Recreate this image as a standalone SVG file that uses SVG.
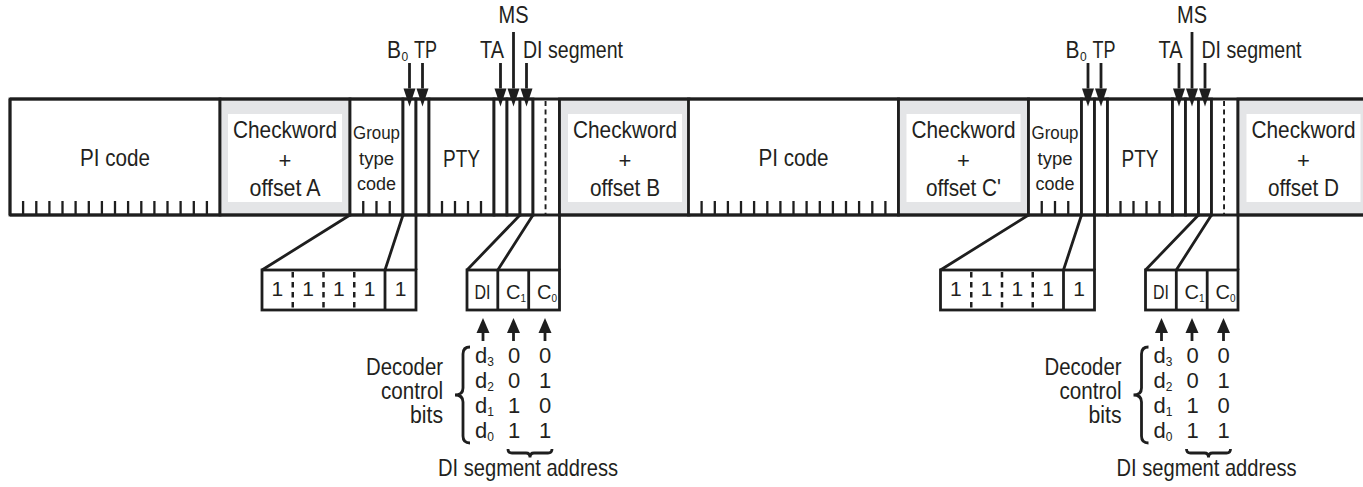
<svg xmlns="http://www.w3.org/2000/svg" width="1363" height="487" viewBox="0 0 1363 487">
<defs>
<style>
.cell{fill:#fff;stroke:#1e1e1e;stroke-width:2.8}
.cw{fill:#e4e5e7;stroke:#1e1e1e;stroke-width:2.8}
.in{fill:#fff}
.fill{fill:#fff}
.ln{stroke:#1e1e1e;stroke-width:2.8;fill:none}
.tk{stroke:#1e1e1e;stroke-width:2.3;fill:none}
.ds{stroke:#1e1e1e;stroke-width:2.8;stroke-dasharray:5 3.6;fill:none}
.dsb{stroke:#1e1e1e;stroke-width:2.5;stroke-dasharray:5.5 4.5;fill:none}
.t{font-family:"Liberation Sans",Arial,sans-serif;font-size:24px;fill:#231f20}
.s18{font-size:18px}
.s20{font-size:20px}
.s21{font-size:21px}
.s22{font-size:22px}
.s23{font-size:23px}
.c{text-anchor:middle}
.e{text-anchor:end}
.sub{font-size:12px}
.pl{font-size:22px}
</style>
<marker id="ad" markerUnits="userSpaceOnUse" markerWidth="18" markerHeight="12" refX="0" refY="6" orient="auto" overflow="visible"><path d="M0,0 L18,6 L0,12 z" fill="#1e1e1e"/></marker>
<marker id="au" markerUnits="userSpaceOnUse" markerWidth="15" markerHeight="13" refX="0" refY="6.5" orient="auto" overflow="visible"><path d="M0,0 L15,6.5 L0,13 z" fill="#1e1e1e"/></marker>
</defs>
<rect width="1363" height="487" fill="#fff"/>

<!-- ================= LEFT HALF ================= -->
<g id="left-half">
<g id="pi-code-1"><rect class="cell" x="10" y="99" width="210" height="116"/><path class="tk" d="M23.1 201V215M36.3 201V215M49.4 201V215M62.5 201V215M75.6 201V215M88.8 201V215M101.9 201V215M115 201V215M128.1 201V215M141.3 201V215M154.4 201V215M167.5 201V215M180.6 201V215M193.8 201V215M206.9 201V215"/><text class="t c" x="115" y="166" textLength="70" lengthAdjust="spacingAndGlyphs">PI code</text></g>
<g id="checkword-a"><rect class="cw" x="220" y="99" width="130" height="116"/><rect class="in" x="228" y="114" width="114" height="88"/><text class="t c" x="285" y="138" textLength="104" lengthAdjust="spacingAndGlyphs">Checkword</text><text class="t pl c" x="285" y="168">+</text><text class="t c" x="285" y="196" textLength="71" lengthAdjust="spacingAndGlyphs">offset A</text></g>
<g id="group-type-code-1"><rect class="cell" x="350" y="99" width="53" height="116"/><path class="tk" d="M363.25 201V215M376.5 201V215M389.75 201V215"/><text class="t c s18" x="376.5" y="139" textLength="47" lengthAdjust="spacingAndGlyphs">Group</text><text class="t c s18" x="376.5" y="165" textLength="35" lengthAdjust="spacingAndGlyphs">type</text><text class="t c s18" x="376.5" y="190" textLength="39" lengthAdjust="spacingAndGlyphs">code</text></g>
<g id="b0-1"><rect class="cell" x="403" y="99" width="13" height="116"/></g>
<g id="tp-1"><rect class="cell" x="416" y="99" width="13" height="116"/></g>
<g id="pty-1"><rect class="cell" x="429" y="99" width="65" height="116"/><path class="tk" d="M442 201V215M455 201V215M468 201V215M481 201V215"/><text class="t c" x="461.5" y="167" textLength="37" lengthAdjust="spacingAndGlyphs">PTY</text></g>
<g id="ta-1"><rect class="cell" x="494" y="99" width="13" height="116"/></g>
<g id="ms-1"><rect class="cell" x="507" y="99" width="13" height="116"/></g>
<g id="di-1"><rect class="cell" x="520" y="99" width="13" height="116"/></g>
<g id="c1-1"><rect class="fill" x="533" y="99" width="13" height="116"/><path class="ln" d="M533 99V215"/><path class="ds" d="M546 101V215"/></g>
<g id="c0-1"><rect class="fill" x="546.5" y="99" width="13" height="116"/><path class="ln" d="M559.5 99V215"/></g>
<g id="checkword-b"><rect class="cw" x="559.5" y="99" width="129.5" height="116"/><rect class="in" x="568" y="114" width="114" height="88"/><text class="t c" x="625" y="138" textLength="104" lengthAdjust="spacingAndGlyphs">Checkword</text><text class="t pl c" x="625" y="168">+</text><text class="t c" x="625" y="196" textLength="70" lengthAdjust="spacingAndGlyphs">offset B</text></g>

<g id="labels-top-1">
<text class="t c" x="513.5" y="23" textLength="30" lengthAdjust="spacingAndGlyphs">MS</text>
<text class="t" y="58"><tspan x="387" textLength="14" lengthAdjust="spacingAndGlyphs">B</tspan><tspan class="sub" x="401.5" dy="3">0</tspan><tspan x="414" dy="-3" textLength="23" lengthAdjust="spacingAndGlyphs">TP</tspan></text>
<text class="t" x="480" y="58" textLength="24" lengthAdjust="spacingAndGlyphs">TA</text>
<text class="t" x="523" y="58" textLength="100" lengthAdjust="spacingAndGlyphs">DI segment</text>
</g>

<g id="gtc-expansion-1"><rect class="cell" x="262" y="270" width="154" height="40"/><path class="dsb" d="M292.75 272V310M323.5 272V310M354.25 272V310"/><path class="ln" d="M385 270V310"/><text class="t c s21" x="277.4" y="296">1</text><text class="t c s21" x="308.1" y="296">1</text><text class="t c s21" x="338.9" y="296">1</text><text class="t c s21" x="369.6" y="296">1</text><text class="t c s21" x="400.5" y="296">1</text></g>

<g id="di-expansion-1"><rect class="cell" x="467" y="270" width="92.5" height="40"/><path class="ln" d="M497.8 270V310M528.7 270V310"/><text class="t s20 c" x="482.5" y="299" textLength="16" lengthAdjust="spacingAndGlyphs">DI</text><text class="t s20" x="506" y="299">C<tspan font-size="10" dy="3">1</tspan></text><text class="t s20" x="537" y="299">C<tspan font-size="10" dy="3">0</tspan></text></g>

<g id="decoder-table-1">
<text class="t s23 e" x="443" y="375" textLength="77" lengthAdjust="spacingAndGlyphs">Decoder</text>
<text class="t s23 e" x="443" y="399" textLength="62" lengthAdjust="spacingAndGlyphs">control</text>
<text class="t s23 e" x="443" y="423" textLength="33" lengthAdjust="spacingAndGlyphs">bits</text>
<path class="ln" d="M470 347Q463 347 463 354L463 388Q463 395 455 395Q463 395 463 402L463 436Q463 443 470 443"/>
<text class="t s22" x="475" y="363">d<tspan class="sub" dy="3">3</tspan></text>
<text class="t s22" x="475" y="388">d<tspan class="sub" dy="3">2</tspan></text>
<text class="t s22" x="475" y="413">d<tspan class="sub" dy="3">1</tspan></text>
<text class="t s22" x="475" y="438">d<tspan class="sub" dy="3">0</tspan></text>
<text class="t s22 c" x="514" y="363">0</text><text class="t s22 c" x="545" y="363">0</text>
<text class="t s22 c" x="514" y="388">0</text><text class="t s22 c" x="545" y="388">1</text>
<text class="t s22 c" x="514" y="413">1</text><text class="t s22 c" x="545" y="413">0</text>
<text class="t s22 c" x="514" y="438">1</text><text class="t s22 c" x="545" y="438">1</text>
<path class="ln" d="M508 449Q508 453 512 453L526 453Q530 453 530 457.5Q530 453 534 453L548 453Q552 453 552 449"/>
<text class="t c" x="528" y="476" textLength="180" lengthAdjust="spacingAndGlyphs">DI segment address</text>
</g>
</g>

<!-- ================= RIGHT HALF ================= -->
<g id="right-half" transform="translate(678.5 0)">
<g id="pi-code-2"><rect class="cell" x="10" y="99" width="210" height="116"/><path class="tk" d="M23.1 201V215M36.3 201V215M49.4 201V215M62.5 201V215M75.6 201V215M88.8 201V215M101.9 201V215M115 201V215M128.1 201V215M141.3 201V215M154.4 201V215M167.5 201V215M180.6 201V215M193.8 201V215M206.9 201V215"/><text class="t c" x="115" y="166" textLength="70" lengthAdjust="spacingAndGlyphs">PI code</text></g>
<g id="checkword-c"><rect class="cw" x="220" y="99" width="130" height="116"/><rect class="in" x="228" y="114" width="114" height="88"/><text class="t c" x="285" y="138" textLength="104" lengthAdjust="spacingAndGlyphs">Checkword</text><text class="t pl c" x="285" y="168">+</text><text class="t c" x="285" y="196" textLength="75" lengthAdjust="spacingAndGlyphs">offset C'</text></g>
<g id="group-type-code-2"><rect class="cell" x="350" y="99" width="53" height="116"/><path class="tk" d="M363.25 201V215M376.5 201V215M389.75 201V215"/><text class="t c s18" x="376.5" y="139" textLength="47" lengthAdjust="spacingAndGlyphs">Group</text><text class="t c s18" x="376.5" y="165" textLength="35" lengthAdjust="spacingAndGlyphs">type</text><text class="t c s18" x="376.5" y="190" textLength="39" lengthAdjust="spacingAndGlyphs">code</text></g>
<g id="b0-2"><rect class="cell" x="403" y="99" width="13" height="116"/></g>
<g id="tp-2"><rect class="cell" x="416" y="99" width="13" height="116"/></g>
<g id="pty-2"><rect class="cell" x="429" y="99" width="65" height="116"/><path class="tk" d="M442 201V215M455 201V215M468 201V215M481 201V215"/><text class="t c" x="461.5" y="167" textLength="37" lengthAdjust="spacingAndGlyphs">PTY</text></g>
<g id="ta-2"><rect class="cell" x="494" y="99" width="13" height="116"/></g>
<g id="ms-2"><rect class="cell" x="507" y="99" width="13" height="116"/></g>
<g id="di-2"><rect class="cell" x="520" y="99" width="13" height="116"/></g>
<g id="c1-2"><rect class="fill" x="533" y="99" width="13" height="116"/><path class="ln" d="M533 99V215"/><path class="ds" d="M546 101V215"/></g>
<g id="c0-2"><rect class="fill" x="546.5" y="99" width="13" height="116"/><path class="ln" d="M559.5 99V215"/></g>
<g id="checkword-d"><rect class="cw" x="559.5" y="99" width="140" height="116"/><rect class="in" x="568" y="114" width="114" height="88"/><text class="t c" x="625" y="138" textLength="104" lengthAdjust="spacingAndGlyphs">Checkword</text><text class="t pl c" x="625" y="168">+</text><text class="t c" x="625" y="196" textLength="71" lengthAdjust="spacingAndGlyphs">offset D</text></g>

<g id="labels-top-2">
<text class="t c" x="513.5" y="23" textLength="30" lengthAdjust="spacingAndGlyphs">MS</text>
<text class="t" y="58"><tspan x="387" textLength="14" lengthAdjust="spacingAndGlyphs">B</tspan><tspan class="sub" x="401.5" dy="3">0</tspan><tspan x="414" dy="-3" textLength="23" lengthAdjust="spacingAndGlyphs">TP</tspan></text>
<text class="t" x="480" y="58" textLength="24" lengthAdjust="spacingAndGlyphs">TA</text>
<text class="t" x="523" y="58" textLength="100" lengthAdjust="spacingAndGlyphs">DI segment</text>
</g>

<g id="gtc-expansion-2"><rect class="cell" x="262" y="270" width="154" height="40"/><path class="dsb" d="M292.75 272V310M323.5 272V310M354.25 272V310"/><path class="ln" d="M385 270V310"/><text class="t c s21" x="277.4" y="296">1</text><text class="t c s21" x="308.1" y="296">1</text><text class="t c s21" x="338.9" y="296">1</text><text class="t c s21" x="369.6" y="296">1</text><text class="t c s21" x="400.5" y="296">1</text></g>

<g id="di-expansion-2"><rect class="cell" x="467" y="270" width="92.5" height="40"/><path class="ln" d="M497.8 270V310M528.7 270V310"/><text class="t s20 c" x="482.5" y="299" textLength="16" lengthAdjust="spacingAndGlyphs">DI</text><text class="t s20" x="506" y="299">C<tspan font-size="10" dy="3">1</tspan></text><text class="t s20" x="537" y="299">C<tspan font-size="10" dy="3">0</tspan></text></g>

<g id="decoder-table-2">
<text class="t s23 e" x="443" y="375" textLength="77" lengthAdjust="spacingAndGlyphs">Decoder</text>
<text class="t s23 e" x="443" y="399" textLength="62" lengthAdjust="spacingAndGlyphs">control</text>
<text class="t s23 e" x="443" y="423" textLength="33" lengthAdjust="spacingAndGlyphs">bits</text>
<path class="ln" d="M470 347Q463 347 463 354L463 388Q463 395 455 395Q463 395 463 402L463 436Q463 443 470 443"/>
<text class="t s22" x="475" y="363">d<tspan class="sub" dy="3">3</tspan></text>
<text class="t s22" x="475" y="388">d<tspan class="sub" dy="3">2</tspan></text>
<text class="t s22" x="475" y="413">d<tspan class="sub" dy="3">1</tspan></text>
<text class="t s22" x="475" y="438">d<tspan class="sub" dy="3">0</tspan></text>
<text class="t s22 c" x="514" y="363">0</text><text class="t s22 c" x="545" y="363">0</text>
<text class="t s22 c" x="514" y="388">0</text><text class="t s22 c" x="545" y="388">1</text>
<text class="t s22 c" x="514" y="413">1</text><text class="t s22 c" x="545" y="413">0</text>
<text class="t s22 c" x="514" y="438">1</text><text class="t s22 c" x="545" y="438">1</text>
<path class="ln" d="M508 449Q508 453 512 453L526 453Q530 453 530 457.5Q530 453 534 453L548 453Q552 453 552 449"/>
<text class="t c" x="528" y="476" textLength="180" lengthAdjust="spacingAndGlyphs">DI segment address</text>
</g>
</g>

<!-- frame lines of the block bar -->
<g id="frame"><path class="ln" d="M10 99H1363M10 215H1363M10 99V215"/></g>

<!-- ================= CONNECTORS ================= -->
<g id="connectors" class="ln">
<g id="connectors-left">
<path d="M409.5 63V88.5" marker-end="url(#ad)"/>
<path d="M422.5 63V88.5" marker-end="url(#ad)"/>
<path d="M500.5 63V88.5" marker-end="url(#ad)"/>
<path d="M513.5 32V88.5" marker-end="url(#ad)"/>
<path d="M526.5 63V88.5" marker-end="url(#ad)"/>
<path d="M350 215L262 270M403 215L385 270M416 215V270"/>
<path d="M520 215L467 270M533 215L497.8 270M559.5 215V270"/>
<path d="M483 341V333" marker-end="url(#au)"/>
<path d="M513.5 341V333" marker-end="url(#au)"/>
<path d="M545 341V333" marker-end="url(#au)"/>
</g>
<g id="connectors-right" transform="translate(678.5 0)">
<path d="M409.5 63V88.5" marker-end="url(#ad)"/>
<path d="M422.5 63V88.5" marker-end="url(#ad)"/>
<path d="M500.5 63V88.5" marker-end="url(#ad)"/>
<path d="M513.5 32V88.5" marker-end="url(#ad)"/>
<path d="M526.5 63V88.5" marker-end="url(#ad)"/>
<path d="M350 215L262 270M403 215L385 270M416 215V270"/>
<path d="M520 215L467 270M533 215L497.8 270M559.5 215V270"/>
<path d="M483 341V333" marker-end="url(#au)"/>
<path d="M513.5 341V333" marker-end="url(#au)"/>
<path d="M545 341V333" marker-end="url(#au)"/>
</g>
</g>
</svg>
